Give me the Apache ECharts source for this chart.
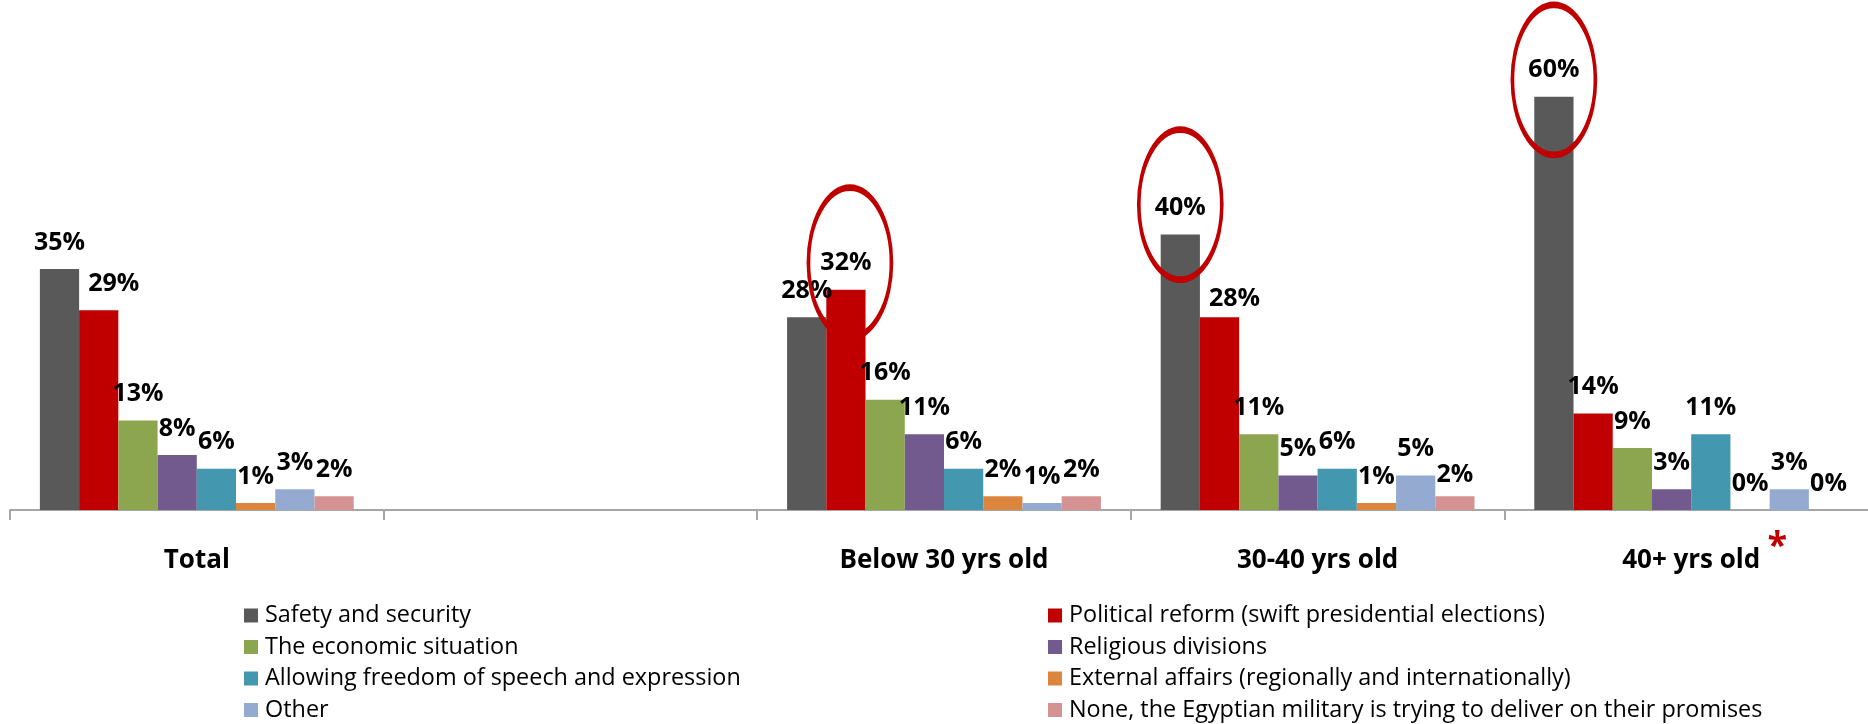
<!DOCTYPE html>
<html>
<head>
<meta charset="utf-8">
<script src="https://cdn.jsdelivr.net/npm/echarts@6/dist/echarts.min.js"></script>
<style>
  html, body { margin: 0; padding: 0; background: #fff; }
  #chart { width: 1868px; height: 724px; }
</style>
</head>
<body>
<div id="chart"></div>
<script>
const categories = ['Total', '', 'Below 30 yrs old', '30-40 yrs old', '40+ yrs old'];
const seriesNames = [
  'Safety and security',
  'Political reform (swift presidential elections)',
  'The economic situation',
  'Religious divisions',
  'Allowing freedom of speech and expression',
  'External affairs (regionally and internationally)',
  'Other',
  'None, the Egyptian military is trying to deliver on their promises'
];
const safety    = [35, null, 28, 40, 60];
const political = [29, null, 32, 28, 14];
const economic  = [13, null, 16, 11, 9];
const religious = [8,  null, 11, 5,  3];
const freedom   = [6,  null, 6,  6,  11];
const external  = [1,  null, 2,  1,  0];
const other     = [3,  null, 1,  5,  3];
const none      = [2,  null, 2,  2,  0];
const seriesValues = [safety, political, economic, religious, freedom, external, other, none];
const colors = ['#595959', '#C00000', '#8BA64F', '#725A8F', '#4398AF', '#DC853E', '#95AAD1', '#D49392'];

// highlighted (circled) values: [seriesIndex, categoryIndex]
const circled = [[1, 2], [0, 3], [0, 4]];
const circleShift = [[4, -27], [0, -30], [0, -17]];
// labels moved by hand in the original: [seriesIndex, categoryIndex, dx, dy]
const nudged = [[1, 0, 15, 0], [1, 3, 15, 8], [7, 3, 0, 5]];
// category that carries the red asterisk
const starredCategory = '40+ yrs old';

const FONT = 'Open Sans';

const series = seriesValues.map((vals, si) => {
  const data = vals.map((v, ci) => {
    const item = { value: v };
    const n = nudged.find(m => m[0] === si && m[1] === ci);
    if (n) item.label = { offset: [n[2], n[3]] };
    return item;
  });
  const s = {
    name: seriesNames[si],
    type: 'bar',
    data: data,
    barGap: '0%',
    barCategoryGap: '16%',
    itemStyle: { color: colors[si] },
    label: {
      show: true,
      position: 'top',
      distance: 14,
      fontFamily: FONT,
      fontWeight: 'bold',
      fontSize: 25,
      color: '#000',
      formatter: p => (p.value == null ? '' : p.value + '%')
    }
  };
  const marks = circled
    .map((c, k) => ({ c, k }))
    .filter(o => o.c[0] === si)
    .map(o => ({
      coord: [categories[o.c[1]], vals[o.c[1]]],
      symbolOffset: circleShift[o.k]
    }));
  if (marks.length) {
    s.markPoint = {
      symbol: 'path://M0,75a41,75 0 1,0 82,0a41,75 0 1,0 -82,0z',
      symbolSize: [83, 150],
      symbolKeepAspect: false,
      silent: true,
      itemStyle: { color: 'rgba(0,0,0,0)', borderColor: '#C00000', borderWidth: 5 },
      label: { show: false },
      data: marks
    };
  }
  return s;
});

const legendText = { fontFamily: FONT, fontSize: 23.4, color: '#000', padding: [0, 0, 0, 2] };

const option = {
  animation: false,
  backgroundColor: '#fff',
  grid: { left: 10, right: -10, top: 28, bottom: 214, containLabel: false, outerBoundsMode: 'none' },
  xAxis: {
    type: 'category',
    data: categories,
    axisLine: { lineStyle: { color: '#A6A6A6', width: 2 } },
    axisTick: { show: true, length: 10, lineStyle: { color: '#A6A6A6', width: 2 } },
    axisLabel: {
      interval: 0,
      margin: 38,
      fontFamily: FONT,
      fontWeight: 'bold',
      fontSize: 26,
      color: '#000'
    }
  },
  yAxis: { type: 'value', min: 0, max: 70, show: false, splitLine: { show: false } },
  legend: [
    {
      orient: 'vertical', left: 244, top: 604, height: 120, padding: 0,
      itemWidth: 14, itemHeight: 14, itemGap: 8.5,
      icon: 'rect', textStyle: legendText,
      data: [seriesNames[0], seriesNames[2], seriesNames[4], seriesNames[6]]
    },
    {
      orient: 'vertical', left: 1048, top: 604, height: 120, padding: 0,
      itemWidth: 14, itemHeight: 14, itemGap: 8.5,
      icon: 'rect', textStyle: legendText,
      data: [seriesNames[1], seriesNames[3], seriesNames[5], seriesNames[7]]
    }
  ],
  series: series
};

const chart = echarts.init(document.getElementById('chart'), null, { renderer: 'canvas' });
chart.setOption(option);

// red asterisk beside the starred category label, placed from the axis scale
const cx = chart.convertToPixel({ xAxisIndex: 0 }, starredCategory);
const y0 = chart.convertToPixel({ yAxisIndex: 0 }, 0);
chart.setOption({
  graphic: [{
    type: 'text',
    x: cx + 86,
    y: y0 + 37,
    silent: true,
    style: {
      text: '*',
      fill: '#C00000',
      font: 'bold 36px "Open Sans"',
      textAlign: 'center',
      textVerticalAlign: 'middle'
    }
  }]
});
</script>
</body>
</html>
